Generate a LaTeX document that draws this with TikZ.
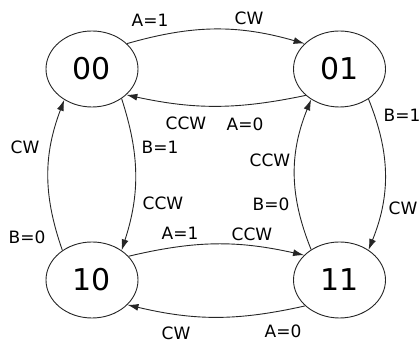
\documentclass[tikz,border=0pt]{standalone}
\usepackage{fontspec}
\setmainfont{DejaVu Sans}
\usetikzlibrary{shapes,arrows.meta}

\begin{document}
\begin{tikzpicture}[x=1pt,y=1pt,->,>={Latex[length=11pt,width=7pt]},line width=0.9pt,draw=black!85]
    \tikzstyle{state}=[ellipse,draw=black!85,minimum width=92pt,minimum height=76pt,inner sep=0pt,font=\fontsize{30}{30}\selectfont]
    \tikzstyle{lbl}=[inner sep=0pt,font=\fontsize{17}{17}\selectfont]
    \useasboundingbox (0,0) rectangle (420,342);
    \node[state] (S00) at (92,273)    {00};
    \node[state] (S01) at (339.5,273) {01};
    \node[state] (S10) at (92,62)     {10};
    \node[state] (S11) at (339.5,62)  {11};
    \draw (S00.36)  to[bend left=16] (S01.144);
    \draw (S01.218) to[bend left=12] (S00.323);
    \draw (S00.315) to[bend left=18] (S10.45);
    \draw (S10.135) to[bend left=20] (S00.228);
    \draw (S01.314) to[bend left=22] (S11.46);
    \draw (S11.133) to[bend left=22] (S01.227);
    \draw (S10.33)  to[bend left=13] (S11.145);
    \draw (S11.217) to[bend left=13] (S10.325);
    \node[lbl] (t1)  at (150,322) {A=1};
    \node[lbl] (t2)  at (249,324) {CW};
    \node[lbl] (t3)  at (186,219) {CCW};
    \node[lbl] (t4)  at (245,218) {A=0};
    \node[lbl] (t5)  at (402,227) {B=1};
    \node[lbl] (t6)  at (25,195)  {CW};
    \node[lbl] (t7)  at (160,195) {B=1};
    \node[lbl] (t8)  at (270,182) {CCW};
    \node[lbl] (t9)  at (163,139) {CCW};
    \node[lbl] (t10) at (271,138) {B=0};
    \node[lbl] (t11) at (403,134) {CW};
    \node[lbl] (t12) at (27,105)  {B=0};
    \node[lbl] (t13) at (180,109) {A=1};
    \node[lbl] (t14) at (252,108) {CCW};
    \node[lbl] (t15) at (176,9)   {CW};
    \node[lbl] (t16) at (283,11)  {A=0};
\end{tikzpicture}
\end{document}
